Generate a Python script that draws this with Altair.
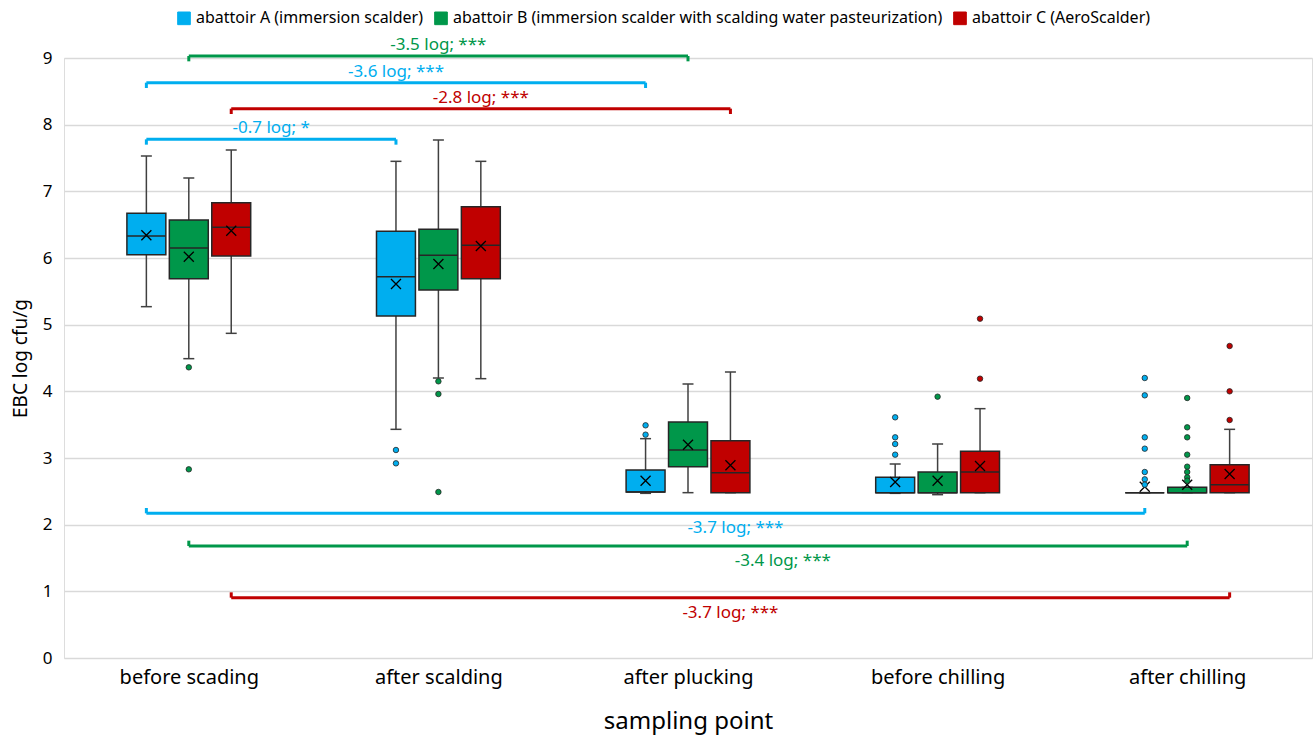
import json
import altair as alt
import pandas as pd

# ---------------- data ----------------
sampling_points = ["before scading", "after scalding", "after plucking", "before chilling", "after chilling"]
abattoirs = [
    "abattoir A (immersion scalder)",
    "abattoir B (immersion scalder with scalding water pasteurization)",
    "abattoir C (AeroScalder)",
]
colors = ["#00AEEF", "#00974A", "#C00000"]

# per abattoir, per sampling point: whisker low, Q1, median, Q3, whisker high, mean
a_low = [5.27, 3.43, 2.47, 2.47, 2.48]
a_q1 = [6.05, 5.13, 2.49, 2.48, 2.48]
a_med = [6.33, 5.72, 2.49, 2.48, 2.48]
a_q3 = [6.67, 6.40, 2.82, 2.71, 2.48]
a_high = [7.53, 7.45, 3.29, 2.91, 2.48]
a_mean = [6.34, 5.61, 2.66, 2.64, 2.57]

b_low = [4.49, 4.20, 2.48, 2.45, 2.48]
b_q1 = [5.69, 5.52, 2.87, 2.48, 2.48]
b_med = [6.15, 6.04, 3.12, 2.48, 2.48]
b_q3 = [6.57, 6.43, 3.54, 2.79, 2.56]
b_high = [7.20, 7.77, 4.11, 3.21, 2.56]
b_mean = [6.02, 5.91, 3.20, 2.66, 2.60]

c_low = [4.87, 4.19, 2.48, 2.48, 2.48]
c_q1 = [6.03, 5.69, 2.48, 2.48, 2.48]
c_med = [6.46, 6.19, 2.78, 2.79, 2.60]
c_q3 = [6.83, 6.77, 3.26, 3.10, 2.90]
c_high = [7.62, 7.45, 4.29, 3.74, 3.43]
c_mean = [6.41, 6.18, 2.89, 2.88, 2.76]

# outliers per sampling point
a_out = [[], [3.12, 2.92], [3.35, 3.49], [3.05, 3.21, 3.31, 3.61], [4.20, 3.94, 3.31, 3.14, 2.79, 2.68, 2.60]]
b_out = [[4.36, 2.83], [4.15, 3.96, 2.49], [], [3.92], [3.90, 3.46, 3.31, 3.05, 2.87, 2.79, 2.71, 2.66]]
c_out = [[], [], [], [4.19, 5.09], [3.57, 4.00, 4.68]]

# significance brackets: (abattoir index, from point, to point, level, label, label shift in point units)
br_group = [1, 0, 2, 0, 0, 1, 2]
br_from = [0, 0, 0, 0, 0, 0, 0]
br_to = [2, 2, 2, 1, 4, 4, 4]
br_level = [9.03, 8.63, 8.24, 7.78, 2.17, 1.68, 0.905]
br_label = ["-3.5 log; ***", "-3.6 log; ***", "-2.8 log; ***", "-0.7 log; *",
            "-3.7 log; ***", "-3.4 log; ***", "-3.7 log; ***"]
br_shift = [0.0, 0.0, 0.0, 0.0, 0.36, 0.38, 0.0]

# ---------------- tables ----------------
stats = {
    0: (a_low, a_q1, a_med, a_q3, a_high, a_mean),
    1: (b_low, b_q1, b_med, b_q3, b_high, b_mean),
    2: (c_low, c_q1, c_med, c_q3, c_high, c_mean),
}
rows = []
for gi, (lo, q1, md, q3, hi, mn) in stats.items():
    for pi in range(len(sampling_points)):
        rows.append(dict(g=abattoirs[gi], gi=gi, pi=pi, lo=lo[pi], q1=q1[pi], med=md[pi],
                         q3=q3[pi], hi=hi[pi], mean=mn[pi]))
box_df = pd.DataFrame(rows)

orows = []
for gi, outs in enumerate([a_out, b_out, c_out]):
    for pi, vals in enumerate(outs):
        for v in vals:
            orows.append(dict(g=abattoirs[gi], gi=gi, pi=pi, v=v))
out_df = pd.DataFrame(orows)

br_df = pd.DataFrame(dict(
    g=[abattoirs[i] for i in br_group], gi=br_group, pf=br_from, pt=br_to,
    level=br_level, label=br_label, shift=br_shift,
))

OFF = 0.17
HALF = 0.078
CAP = 0.022
FONT = "Noto Sans, sans-serif"

xscale = alt.Scale(domain=[0, 5], nice=False, zero=False)
yscale = alt.Scale(domain=[0, 9], nice=False)
cscale = alt.Scale(domain=abattoirs, range=colors)

pos_expr = f"datum.pi + 0.5 + (datum.gi - 1) * {OFF}"

base = alt.Chart(box_df).transform_calculate(
    pos=pos_expr,
    xl=f"datum.pi + 0.5 + (datum.gi - 1) * {OFF} - {HALF}",
    xr=f"datum.pi + 0.5 + (datum.gi - 1) * {OFF} + {HALF}",
    cl=f"datum.pi + 0.5 + (datum.gi - 1) * {OFF} - {CAP}",
    cr=f"datum.pi + 0.5 + (datum.gi - 1) * {OFF} + {CAP}",
)

labels_js = json.dumps(sampling_points)
x_axis = alt.Axis(
    values=[0.5, 1.5, 2.5, 3.5, 4.5],
    labelExpr=f"{labels_js}[floor(datum.value)]",
    title="sampling point", grid=False, ticks=False, domain=False,
    labelFontSize=20, labelPadding=9, titleFontSize=24, titlePadding=22,
    labelColor="#000000", titleColor="#000000", titleFontWeight="normal",
)
y_axis = alt.Axis(
    values=list(range(0, 10)), format="d", title="EBC log cfu/g", grid=True, gridColor="#d9d9d9",
    gridWidth=1.5, ticks=False, domain=False, labelFontSize=17, labelPadding=12,
    titleFontSize=19, titlePadding=12, titleFontWeight="normal",
    labelColor="#000000", titleColor="#000000",
)

whisker = base.mark_rule(color="#404040", strokeWidth=1.5).encode(
    x=alt.X("pos:Q", scale=xscale, axis=x_axis),
    y=alt.Y("lo:Q", scale=yscale, axis=y_axis),
    y2="hi:Q",
)
cap_hi = base.mark_rule(color="#404040", strokeWidth=1.5).encode(
    x=alt.X("cl:Q", scale=xscale), x2="cr:Q", y=alt.Y("hi:Q", scale=yscale))
cap_lo = base.mark_rule(color="#404040", strokeWidth=1.5).encode(
    x=alt.X("cl:Q", scale=xscale), x2="cr:Q", y=alt.Y("lo:Q", scale=yscale))
box = base.mark_rect(stroke="#262626", strokeWidth=1.5).encode(
    x=alt.X("xl:Q", scale=xscale), x2="xr:Q",
    y=alt.Y("q1:Q", scale=yscale), y2="q3:Q",
    color=alt.Color("g:N", scale=cscale, sort=abattoirs, title=None,
                    legend=alt.Legend(
                        orient="none", direction="horizontal", legendX=112, legendY=-48,
                        symbolType="square", symbolSize=160, symbolStrokeColor="#262626",
                        symbolStrokeWidth=1, labelFontSize=16, columnPadding=8,
                        symbolOffset=0, labelColor="#000000", labelLimit=600,
                    )),
)
median = base.mark_rule(color="#262626", strokeWidth=1.5).encode(
    x=alt.X("xl:Q", scale=xscale), x2="xr:Q", y=alt.Y("med:Q", scale=yscale))
mean = base.mark_point(shape="M-1,-1L1,1M1,-1L-1,1", size=100, filled=False,
                       color="#000000", strokeWidth=1.3, opacity=1).encode(
    x=alt.X("pos:Q", scale=xscale), y=alt.Y("mean:Q", scale=yscale))

outliers = alt.Chart(out_df).transform_calculate(pos=pos_expr).mark_point(
    shape="circle", size=30, filled=True, stroke="#262626", strokeWidth=0.8, opacity=1
).encode(
    x=alt.X("pos:Q", scale=xscale), y=alt.Y("v:Q", scale=yscale),
    color=alt.Color("g:N", scale=cscale, legend=None),
)

bbase = alt.Chart(br_df).transform_calculate(
    x1=f"datum.pf + 0.5 + (datum.gi - 1) * {OFF}",
    x2=f"datum.pt + 0.5 + (datum.gi - 1) * {OFF}",
    xm=f"(datum.pf + datum.pt) / 2 + 0.5 + (datum.gi - 1) * {OFF} + datum.shift",
    tip="datum.level > 4.5 ? datum.level - 0.08 : datum.level + 0.08",
)
bcolor = alt.Color("g:N", scale=cscale, legend=None)
bline = bbase.mark_rule(strokeWidth=3).encode(
    x=alt.X("x1:Q", scale=xscale), x2="x2:Q", y=alt.Y("level:Q", scale=yscale), color=bcolor)
bend1 = bbase.mark_rule(strokeWidth=3).encode(
    x=alt.X("x1:Q", scale=xscale), y=alt.Y("level:Q", scale=yscale), y2="tip:Q", color=bcolor)
bend2 = bbase.mark_rule(strokeWidth=3).encode(
    x=alt.X("x2:Q", scale=xscale), y=alt.Y("level:Q", scale=yscale), y2="tip:Q", color=bcolor)
btext_top = bbase.transform_filter("datum.level > 4.5").mark_text(
    fontSize=17, baseline="bottom", dy=-2).encode(
    x=alt.X("xm:Q", scale=xscale), y=alt.Y("level:Q", scale=yscale), text="label:N", color=bcolor)
btext_bot = bbase.transform_filter("datum.level <= 4.5").mark_text(
    fontSize=17, baseline="top", dy=7).encode(
    x=alt.X("xm:Q", scale=xscale), y=alt.Y("level:Q", scale=yscale), text="label:N", color=bcolor)

chart = alt.layer(
    whisker, cap_hi, cap_lo, box, median, mean, outliers,
    bline, bend1, bend2, btext_top, btext_bot,
).properties(
    width=1248, height=600,
    autosize=alt.AutoSizeParams(type="none"),
    padding={"left": 64, "top": 58, "right": 1, "bottom": 88},
).configure_view(
    stroke="#d9d9d9", strokeWidth=1.5,
).configure(
    font=FONT, background="white",
)

chart.save("out.html", embed_options={"renderer": "svg", "actions": False})
